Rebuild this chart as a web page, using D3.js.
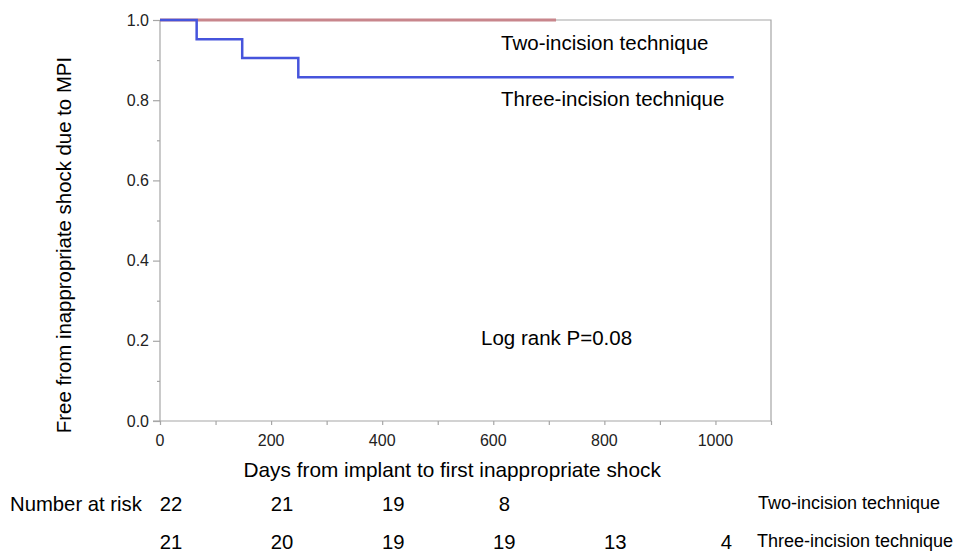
<!DOCTYPE html>
<html>
<head>
<meta charset="utf-8">
<script src="https://cdn.jsdelivr.net/npm/d3@7"></script>
<style>
  body { margin: 0; background: #fff; }
  svg { font-family: "Liberation Sans", Arial, sans-serif; }
</style>
</head>
<body>
<div id="chart"></div>
<script>
// Kaplan-Meier step data
const twoIncisionDays = [0, 713];
const twoIncisionSurv = [1.0, 1.0];
const threeIncisionDays = [0, 66, 148, 249, 1033];
const threeIncisionSurv = [1.0, 0.952, 0.905, 0.857, 0.857];

// number at risk table
const riskDays = [0, 200, 400, 600, 800, 1000];
const riskTwo = [22, 21, 19, 8, null, null];
const riskThree = [21, 20, 19, 19, 13, 4];

const xTicks = [0, 200, 400, 600, 800, 1000];
const yTicks = [0.0, 0.2, 0.4, 0.6, 0.8, 1.0];

const W = 957, H = 553;
const margin = {top: 20, right: 186, bottom: 132, left: 160};
const width = W - margin.left - margin.right;
const height = H - margin.top - margin.bottom;
const axisColor = '#a6a6a6';

const svg = d3.select('#chart').append('svg')
    .attr('width', W)
    .attr('height', H);

const g = svg.append('g')
    .attr('transform', `translate(${margin.left},${margin.top})`);

const x = d3.scaleLinear().domain([0, 1100]).range([0, width]);
const y = d3.scaleLinear().domain([0, 1]).range([height, 0]);

// frame (top + right)
g.append('path')
    .attr('d', `M0,0H${width}V${height}`)
    .attr('fill', 'none')
    .attr('stroke', axisColor)
    .attr('stroke-width', 1.2);

// x axis: major + minor ticks
const xAxis = g.append('g')
    .attr('transform', `translate(0,${height})`);
xAxis.call(d3.axisBottom(x).tickValues(d3.range(0, 1101, 100)).tickSize(4).tickFormat(''))
    .call(a => a.select('.domain').remove());
xAxis.append('line').attr('x1', -7).attr('x2', width).attr('stroke', axisColor).attr('stroke-width', 1.2);
xAxis.call(a => a.selectAll('.tick line').attr('stroke', axisColor).attr('stroke-width', 1.2));
xAxis.selectAll('.lbl')
    .data(xTicks)
    .enter().append('text')
    .attr('x', d => x(d))
    .attr('y', 25)
    .attr('text-anchor', 'middle')
    .style('font-size', '16px')
    .attr('fill', '#222')
    .text(d => d);

// y axis
const yAxis = g.append('g');
yAxis.call(d3.axisLeft(y).tickValues(d3.range(0, 11).map(i => i / 10)).tickSize(3).tickFormat(''))
    .call(a => a.select('.domain').remove());
yAxis.selectAll('.tick line').attr('stroke', axisColor).attr('stroke-width', 1.2);
yAxis.selectAll('.tick').filter(d => Math.round(d * 10) % 2 === 0).select('line').attr('x2', -7);
yAxis.append('line').attr('y1', 0).attr('y2', height).attr('stroke', axisColor).attr('stroke-width', 1.2);
yAxis.selectAll('.lbl')
    .data(yTicks)
    .enter().append('text')
    .attr('x', -11)
    .attr('y', d => y(d))
    .attr('dy', '0.35em')
    .attr('text-anchor', 'end')
    .style('font-size', '16px')
    .attr('fill', '#222')
    .text(d => d3.format('.1f')(d));

// survival curves
const line = d3.line()
    .x(d => x(d[0]))
    .y(d => y(d[1]))
    .curve(d3.curveStepAfter);

g.append('path')
    .datum(twoIncisionDays.map((d, i) => [d, twoIncisionSurv[i]]))
    .attr('d', line)
    .attr('fill', 'none')
    .attr('stroke', '#c8868c')
    .attr('stroke-width', 3);

g.append('path')
    .datum(threeIncisionDays.map((d, i) => [d, threeIncisionSurv[i]]))
    .attr('d', line)
    .attr('fill', 'none')
    .attr('stroke', '#4654dc')
    .attr('stroke-width', 2.5);

// curve labels
g.append('text')
    .attr('x', x(614))
    .attr('y', 30)
    .style('font-size', '20.5px')
    .text('Two-incision technique');

g.append('text')
    .attr('x', x(614))
    .attr('y', 86)
    .style('font-size', '20.5px')
    .text('Three-incision technique');

g.append('text')
    .attr('x', x(578))
    .attr('y', 325)
    .style('font-size', '20.5px')
    .text('Log rank P=0.08');

// axis titles
g.append('text')
    .attr('x', x(526))
    .attr('y', height + 56)
    .attr('text-anchor', 'middle')
    .style('font-size', '20.8px')
    .text('Days from implant to first inappropriate shock');

g.append('text')
    .attr('transform', 'rotate(-90)')
    .attr('x', -225)
    .attr('y', -89)
    .attr('text-anchor', 'middle')
    .style('font-size', '20.4px')
    .text('Free from inappropriate shock due to MPI');

// number at risk
const row1 = 511, row2 = 549;
svg.append('text')
    .attr('x', 10)
    .attr('y', row1)
    .style('font-size', '20.3px')
    .text('Number at risk');

svg.selectAll('.risk2')
    .data(riskDays.map((d, i) => [d, riskTwo[i]]).filter(d => d[1] != null))
    .enter().append('text')
    .attr('x', d => margin.left + x(d[0]) + 11)
    .attr('y', row1)
    .attr('text-anchor', 'middle')
    .style('font-size', '20.3px')
    .text(d => d[1]);

svg.selectAll('.risk3')
    .data(riskDays.map((d, i) => [d, riskThree[i]]))
    .enter().append('text')
    .attr('x', d => margin.left + x(d[0]) + 11)
    .attr('y', row2)
    .attr('text-anchor', 'middle')
    .style('font-size', '20.3px')
    .text(d => d[1]);

svg.append('text')
    .attr('x', 758)
    .attr('y', row1 - 2)
    .style('font-size', '18px')
    .text('Two-incision technique');

svg.append('text')
    .attr('x', 757)
    .attr('y', row2 - 2)
    .style('font-size', '18px')
    .text('Three-incision technique');
</script>
</body>
</html>
